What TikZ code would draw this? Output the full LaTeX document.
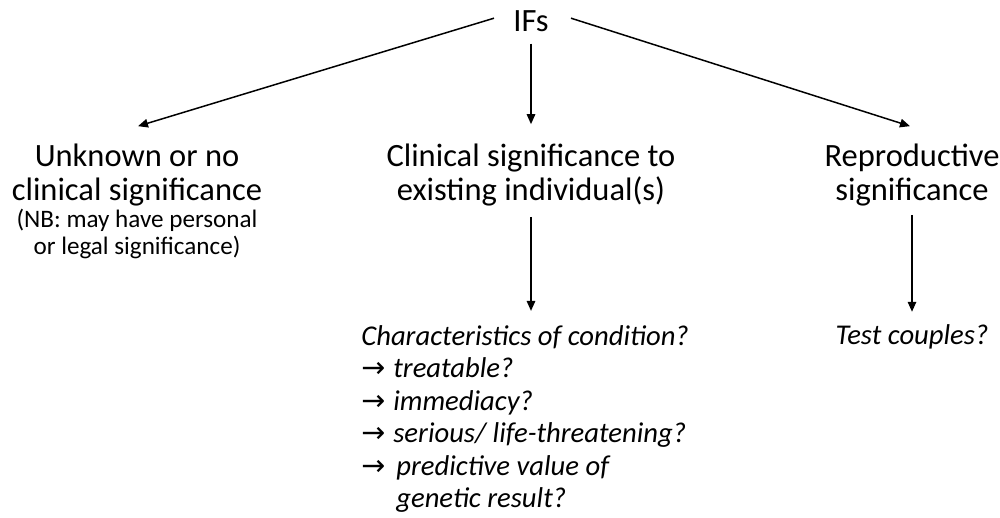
\documentclass[tikz,border=0pt]{standalone}
\usepackage{fontspec}
\setmainfont{Carlito}
\newfontfamily\symfont{DejaVu Sans}
\usetikzlibrary{arrows.meta}
\newcommand{\myarrA}{\makebox[0.64cm][l]{\symfont\char"2192}}
\newcommand{\myarrB}{\makebox[0.70cm][l]{\symfont\char"2192}}
\begin{document}
\begin{tikzpicture}[x=0.02cm,y=-0.02cm,
  arr/.style={-{Triangle[length=0.2cm,width=0.17cm]}, line width=0.85pt},
  mainfont/.style={font=\fontsize{18.5}{19.9}\selectfont, inner sep=0, anchor=base},
  nbfont/.style={font=\fontsize{14.3}{15.9}\selectfont, inner sep=0, anchor=base},
  itfont/.style={font=\fontsize{16.3}{18.5}\selectfont\itshape, inner sep=0, anchor=base}]
\useasboundingbox (0,0) rectangle (1000,517);
\node[mainfont] (ifs) at (531,32) {IFs};
\node[mainfont] (unk) at (137,166) {\begin{tabular}[t]{@{}c@{}}Unknown or no\\clinical significance\end{tabular}};
\node[nbfont] (nb) at (137,227) {\begin{tabular}[t]{@{}c@{}}(NB: may have personal\\or legal significance)\end{tabular}};
\node[mainfont] (cli) at (531,166) {\begin{tabular}[t]{@{}c@{}}Clinical significance to\\existing individual(s)\end{tabular}};
\node[mainfont] (rep) at (912,166) {\begin{tabular}[t]{@{}c@{}}Reproductive\\significance\end{tabular}};
\node[itfont, anchor=base west] (chr) at (361,345) {\begin{tabular}[t]{@{}l@{}}Characteristics of condition?\\
\myarrA treatable?\\
\myarrA immediacy?\\
\myarrA serious/ life-threatening?\\
\myarrB predictive value of\\
\hspace*{0.70cm}genetic result?\end{tabular}};
\node[itfont] (test) at (912,344) {Test couples?};
\coordinate (m) at (cli.south |- chr.north);
\draw[arr] ([shift={(-19,-3.5)}]ifs.west) -- ([shift={(1,-15)}]unk.north);
\draw[arr] ([shift={(0,11)}]ifs.south) -- ([shift={(0,-17)}]cli.north);
\draw[arr] ([shift={(22,-3.5)}]ifs.east) -- ([shift={(-2,-15)}]rep.north);
\draw[arr] ([shift={(0,5)}]cli.south) -- ([shift={(0,-11)}]m);
\draw[arr] ([shift={(0,3)}]rep.south) -- ([shift={(0,-12)}]test.north);
\end{tikzpicture}
\end{document}
